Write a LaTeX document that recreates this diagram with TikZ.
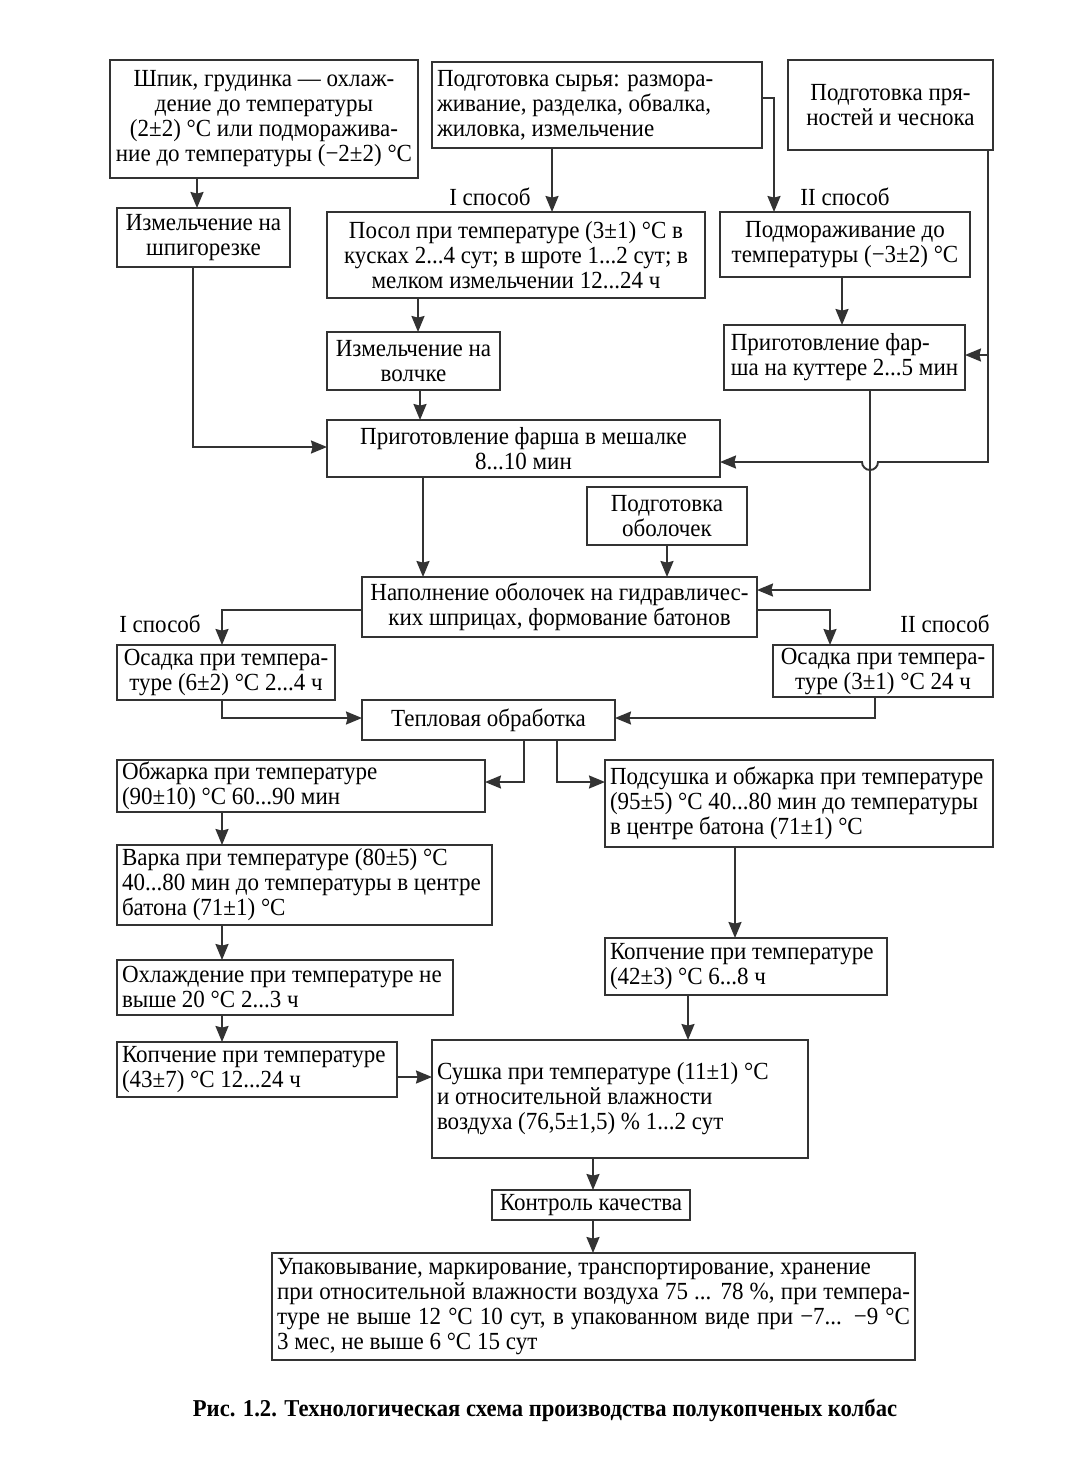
\documentclass[tikz,border=0pt]{standalone}
\usepackage{fontspec}
\setmainfont{Liberation Serif}[FakeStretch=0.935]
\usetikzlibrary{arrows.meta}

\definecolor{ink}{rgb}{0.2,0.2,0.2}

\newcommand{\fullline}[1]{\hbox to\linewidth{#1}}

\tikzset{
  box/.style 2 args={draw=ink, line width=1.4pt, minimum width=#1*0.5pt,
    minimum height=#2*0.5pt, inner xsep=2.5pt, inner ysep=1pt, outer sep=0pt},
  cbox/.style 2 args={box={#1}{#2}, align=center},
  lbox/.style 2 args={box={#1}{#2},
    /utils/exec={\pgfmathsetlengthmacro\boxtw{#1*0.5pt-5pt}},
    text width=\boxtw, align=flush left},
  arr/.style={draw=ink, line width=0.95pt,
    -{Stealth[length=8pt,width=6.5pt,inset=0.8pt]}},
  way/.style={inner sep=0pt}
}

\begin{document}
\begin{tikzpicture}[x=0.5pt,y=-0.5pt,font=\fontsize{12.3}{12.5}\selectfont]
  \fill[white] (0,0) rectangle (1065,1457);
  \useasboundingbox (0,0) rectangle (1065,1457);
  % boxes
  \node[cbox={308}{118}] (shpik) at (264,119)
    {Шпик, грудинка — охлаж-\\дение до температуры\\(2±2) °C или подморажива-\\ние до температуры (−2±2) °C};
  \node[lbox={330}{86}] (syrye) at (597,105)
    {Подготовка сырья: размора-\\живание, разделка, обвалка,\\жиловка, измельчение};
  \node[cbox={205}{90}] (pryan) at (890.5,105)
    {Подготовка пря-\\ностей и чеснока};
  \node[cbox={173}{59}] (shpig) at (203.5,237.5)
    {Измельчение на\\шпигорезке};
  \node[cbox={378}{86}] (posol) at (516,255)
    {Посол при температуре (3±1) °C в\\кусках 2...4 сут; в шроте 1...2 сут; в\\мелком измельчении 12...24 ч};
  \node[cbox={250}{65}] (podmor) at (845,244.5)
    {Подмораживание до\\температуры (−3±2) °C};
  \node[cbox={173}{58}] (volchok) at (413.5,361)
    {Измельчение на\\волчке};
  \node[cbox={241}{65}, align=left] (kutter) at (844.5,357.5)
    {Приготовление фар-\\ша на куттере 2...5 мин};
  \node[cbox={393}{57}] (mesh) at (523.5,448.5)
    {Приготовление фарша в мешалке\\8...10 мин};
  \node[cbox={160}{58}] (obol) at (667,516)
    {Подготовка\\оболочек};
  \node[cbox={395}{60}] (napoln) at (559.5,607)
    {Наполнение оболочек на гидравличес-\\ких шприцах, формование батонов};
  \node[cbox={218}{55}] (osadI) at (226,672.5)
    {Осадка при темпера-\\туре (6±2) °C 2...4 ч};
  \node[cbox={220}{52}] (osadII) at (883,671)
    {Осадка при темпера-\\туре (3±1) °C 24 ч};
  \node[cbox={253}{40}] (teplo) at (488.5,720)
    {Тепловая обработка};
  \node[lbox={368}{52}] (obzh) at (301,786)
    {Обжарка при температуре\\(90±10) °C 60...90 мин};
  \node[lbox={388}{87}] (podsush) at (799,803.5)
    {Подсушка и обжарка при температуре\\(95±5) °C 40...80 мин до температуры\\в центре батона (71±1) °C};
  \node[lbox={375}{80}] (varka) at (304.5,885)
    {Варка при температуре (80±5) °C\\40...80 мин до температуры в центре\\батона (71±1) °C};
  \node[lbox={336}{55}] (ohl) at (285,987.5)
    {Охлаждение при температуре не\\выше 20 °C 2...3 ч};
  \node[lbox={280}{55}] (kopchL) at (257,1069.5)
    {Копчение при температуре\\(43±7) °C 12...24 ч};
  \node[lbox={282}{57}] (kopchR) at (746,966.5)
    {Копчение при температуре\\(42±3) °C 6...8 ч};
  \node[lbox={376}{118}] (sushka) at (620,1099)
    {Сушка при температуре (11±1) °C\\и относительной влажности\\воздуха (76,5±1,5) \% 1...2 сут};
  \node[cbox={198}{30}] (kontrol) at (591,1205)
    {Контроль качества};
  \node[lbox={643}{107}] (upak) at (593.5,1306.5)
    {Упаковывание, маркирование, транспортирование, хранение\\
     \fullline{при относительной влажности воздуха 75 ... 78 \%, при темпера-}
     \fullline{туре не выше 12 °C 10 сут, в упакованном виде при −7... −9 °C}
     3 мес, не выше 6 °C 15 сут};
  % labels
  \node[way] (wayIa) at (490,197) {I способ};
  \node[way] (wayIIa) at (845,197) {II способ};
  \node[way] (wayIb) at (160,624) {I способ};
  \node[way] (wayIIb) at (945,624) {II способ};
  \node[way,font=\fontsize{12.1}{13}\selectfont\bfseries] (caption) at (545,1410)
    {Рис. 1.2. Технологическая схема производства полукопченых колбас};
  % arrows
  \coordinate (rkut) at (988,355);
  \coordinate (rbend) at (988,462);
  \draw[arr] (shpik.south -| 197,0) -- (shpig.north -| 197,0);
  \draw[arr] (syrye.south -| 552,0) -- (posol.north -| 552,0);
  \draw[arr] (syrye.east |- 0,98) -| (podmor.north -| 774,0);
  \draw[arr] (shpig.south -| 193,0) |- (mesh.west |- 0,447);
  \draw[arr] (posol.south -| 418,0) -- (volchok.north -| 418,0);
  \draw[arr] (volchok.south -| 420,0) -- (mesh.north -| 420,0);
  \draw[arr] (podmor.south -| 842,0) -- (kutter.north -| 842,0);
  \draw[arr] (pryan.south -| rbend) -- (rbend) -- (878,462)
    arc[start angle=0, end angle=-180, radius=4pt] -- (mesh.east |- rbend);
  \draw[arr] (rkut) -- (kutter.east |- rkut);
  \draw[arr] (kutter.south -| 870,0) |- (napoln.east |- 0,590);
  \draw[arr] (mesh.south -| 423,0) -- (napoln.north -| 423,0);
  \draw[arr] (obol.south) -- (napoln.north -| obol.south);
  \draw[arr] (napoln.west |- 0,610) -| (osadI.north -| 222,0);
  \draw[arr] (napoln.east |- 0,610) -| (osadII.north -| 830,0);
  \draw[arr] (osadI.south -| 222,0) |- (teplo.west |- 0,718);
  \draw[arr] (osadII.south -| 875,0) |- (teplo.east |- 0,718);
  \draw[arr] (teplo.south -| 524,0) |- (obzh.east |- 0,782);
  \draw[arr] (teplo.south -| 557,0) |- (podsush.west |- 0,782);
  \draw[arr] (obzh.south -| 222,0) -- (varka.north -| 222,0);
  \draw[arr] (varka.south -| 222,0) -- (ohl.north -| 222,0);
  \draw[arr] (ohl.south -| 222,0) -- (kopchL.north -| 222,0);
  \draw[arr] (podsush.south -| 735,0) -- (kopchR.north -| 735,0);
  \draw[arr] (kopchR.south -| 688,0) -- (sushka.north -| 688,0);
  \draw[arr] (kopchL.east |- 0,1077) -- (sushka.west |- 0,1077);
  \draw[arr] (sushka.south -| 593,0) -- (kontrol.north -| 593,0);
  \draw[arr] (kontrol.south -| 593,0) -- (upak.north -| 593,0);
\end{tikzpicture}
\end{document}
